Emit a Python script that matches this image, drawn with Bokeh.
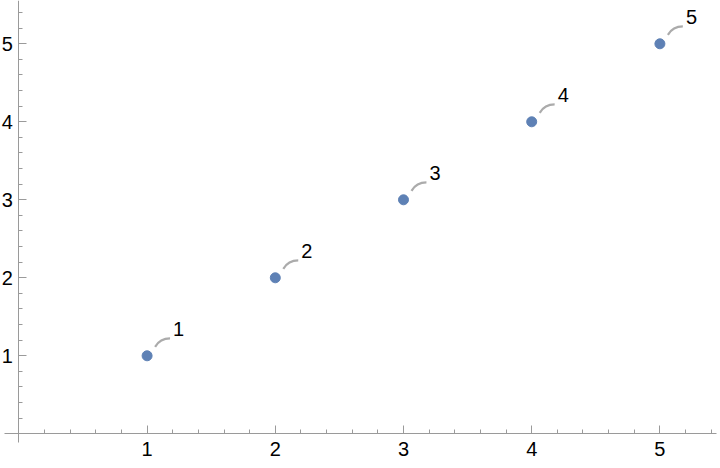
from bokeh.plotting import figure
from bokeh.models import Range1d, FixedTicker, ColumnDataSource
from bokeh.embed import file_html
from bokeh.resources import INLINE
from bokeh.core.properties import value

# data
xs = [1, 2, 3, 4, 5]
ys = [1, 2, 3, 4, 5]
labels = ["1", "2", "3", "4", "5"]
major_ticks = [1, 2, 3, 4, 5]
minor_ticks = [round(0.2 * i, 1) for i in range(1, 28)]

FONT = "Liberation Sans"

p = figure(width=720, height=468, output_backend="svg", toolbar_location=None,
           x_range=Range1d(-0.1435, 5.4727), y_range=Range1d(-0.4449, 5.555),
           min_border=0, min_border_left=0, min_border_right=0,
           min_border_top=0, min_border_bottom=0)
p.outline_line_color = None
p.xgrid.visible = False
p.ygrid.visible = False
p.background_fill_color = "white"
p.border_fill_color = "white"

for ax, bounds, standoff in ((p.xaxis[0], (-0.112, 5.441), 8),
                             (p.yaxis[0], (-0.11, 5.6), 6)):
    ax.fixed_location = 0
    ax.bounds = bounds
    ax.ticker = FixedTicker(ticks=major_ticks, minor_ticks=minor_ticks)
    ax.axis_line_color = "#9a9a9a"
    ax.axis_line_width = 1
    ax.major_tick_line_color = "#9a9a9a"
    ax.minor_tick_line_color = "#9a9a9a"
    ax.major_tick_in = 8
    ax.major_tick_out = 0
    ax.minor_tick_in = 4
    ax.minor_tick_out = 0
    ax.major_label_text_font = FONT
    ax.major_label_text_font_size = "20px"
    ax.major_label_text_color = "black"
    ax.major_label_standoff = standoff

# callout leaders (quadratic curves from point toward label)
src = ColumnDataSource(dict(
    x=xs, y=ys, t=labels,
    x0=[x + 0.0624 for x in xs], y0=[y + 0.115 for y in ys],
    cx=[x + 0.101 for x in xs], cy=[y + 0.223 for y in ys],
    x1=[x + 0.179 for x in xs], y1=[y + 0.223 for y in ys],
))
p.quadratic(x0="x0", y0="y0", x1="x1", y1="y1", cx="cx", cy="cy", source=src,
            line_color="#ababab", line_width=2.2)
p.text(x="x", y="y", text="t", source=src, x_offset=26, y_offset=-26.5,
       text_font=value(FONT), text_font_size="20px", text_color="black",
       text_baseline="middle", text_align="left")
p.scatter(x="x", y="y", source=src, size=10, fill_color="#5E81B5",
          line_color="#5E81B5")

open("out.html", "w").write(file_html(p, INLINE))
